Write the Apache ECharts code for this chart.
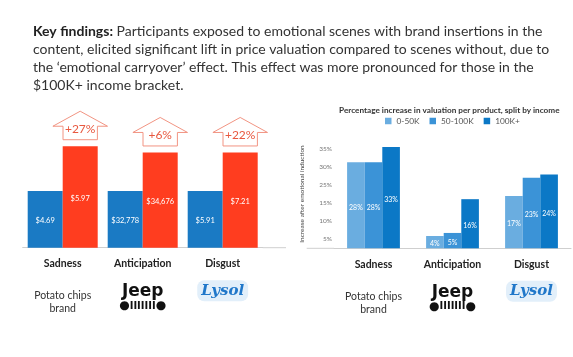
<!DOCTYPE html>
<html><head><meta charset="utf-8">
<script src="https://cdn.jsdelivr.net/npm/echarts@6/dist/echarts.min.js"></script>
<style>html,body{margin:0;padding:0;background:#fff}#c{width:573px;height:357px}</style>
</head><body><div id="c"></div>
<script>
// ---- data ----
const categories = ['Sadness', 'Anticipation', 'Disgust'];
const brands = ['Potato chips\nbrand', 'Jeep', 'Lysol'];
// left chart: valuation without / with emotional scene (bar heights are relative, as drawn)
const withoutLabels = ['$4.69', '$32,778', '$5.91'];
const withLabels = ['$5.97', '$34,676', '$7.21'];
const withoutHeight = [100, 100, 100];
const withHeight = [179, 168, 168];
const liftLabels = ['+27%', '+6%', '+22%'];
// right chart: percentage increase by income
const incomeGroups = ['0-50K', '50-100K', '100K+'];
const inc0to50 = [28, 4, 17];
const inc50to100 = [28, 5, 23];
const inc100plus = [33, 16, 24];
const yTickLabels = ['5%', '10%', '15%', '25%', '30%', '35%', ''];

const FONT = 'Lato';
const chart = echarts.init(document.getElementById('c'), null, {renderer: 'canvas'});

const richLabels = {
  cat: {fontFamily: FONT, fontWeight: 'bold', fontSize: 10.5, lineHeight: 16, color: '#222'},
  sp1: {lineHeight: 17.5, fontSize: 2},
  sp2: {lineHeight: 11, fontSize: 2},
  sp3: {lineHeight: 9, fontSize: 2},
  pc: {fontFamily: FONT, fontSize: 10.5, lineHeight: 13, color: '#333'},
  jeep: {fontFamily: 'DejaVu Sans', fontWeight: 'bold', fontSize: 17, lineHeight: 18, color: '#111'},
  gd: {fontFamily: 'DejaVu Sans', fontSize: 12, lineHeight: 11, color: '#111'},
  gb: {fontFamily: 'DejaVu Sans', fontWeight: 'bold', fontSize: 10, lineHeight: 11, color: '#111'},
  lysol: {fontFamily: 'DejaVu Serif', fontStyle: 'italic', fontWeight: 'bold', fontSize: 15, lineHeight: 20,
          color: '#2077c9', backgroundColor: '#e2effa', padding: [3, 4], borderRadius: 7}
};
function catFormatter(v, i) {
  const b = brands[i];
  if (b === 'Jeep') return '{cat|' + v + '}\n{sp2|}\n{jeep|' + b + '}\n{gd|●}{gb|IIIIIII}{gd|●}';
  if (b === 'Lysol') return '{cat|' + v + '}\n{sp3|}\n{lysol|' + b + '}';
  const parts = b.split('\n');
  return '{cat|' + v + '}\n{sp1|}\n' + parts.map(p => '{pc|' + p + '}').join('\n');
}

const LEFT_BAR_W = 35;
const option = {
  animation: false,
  backgroundColor: '#fff',
  title: [
    {
      left: 28, top: 17,
      text: '{b|Key findings:} Participants exposed to emotional scenes with brand insertions in the\ncontent, elicited significant lift in price valuation compared to scenes without, due to\nthe ‘emotional carryover’ effect. This effect was more pronounced for those in the\n$100K+ income bracket.',
      textStyle: {fontFamily: FONT, fontSize: 14, lineHeight: 18, color: '#333', fontWeight: 'normal',
        rich: {b: {fontFamily: FONT, fontSize: 14, lineHeight: 18, fontWeight: 'bold', color: '#222'}}}
    },
    {
      left: 334, top: 101,
      text: 'Percentage increase in valuation per product, split by income',
      textStyle: {fontFamily: FONT, fontSize: 8.2, fontWeight: 'bold', color: '#333'}
    }
  ],
  legend: {
    data: incomeGroups, left: 385, top: 117, padding: 0,
    icon: 'rect', itemWidth: 6.5, itemHeight: 6.5, itemGap: 10,
    textStyle: {fontFamily: FONT, fontSize: 8.3, color: '#555'}
  },
  grid: [
    {left: 22.7, top: 100.3, width: 240, height: 147.4},
    {left: 334, top: 121.6, width: 237, height: 126.7}
  ],
  xAxis: [
    {type: 'category', gridIndex: 0, data: categories,
     axisLine: {lineStyle: {color: '#cfcfcf'}}, axisTick: {show: false},
     axisLabel: {margin: 8, formatter: catFormatter, rich: richLabels, interval: 0}},
    {type: 'category', gridIndex: 1, data: categories,
     axisLine: {onZero: false, lineStyle: {color: '#cfcfcf'}}, axisTick: {show: false},
     axisLabel: {margin: 8, formatter: catFormatter, rich: richLabels, interval: 0}}
  ],
  yAxis: [
    {type: 'value', gridIndex: 0, min: 0, max: 260, show: false},
    {type: 'value', gridIndex: 1, min: 0, max: 41.27, show: false},
    {type: 'category', gridIndex: 1, data: yTickLabels, position: 'left',
     axisLine: {show: false}, axisTick: {show: false}, splitLine: {show: false},
     axisLabel: {margin: 2, fontFamily: FONT, fontSize: 6.5, color: '#777', interval: 0},
     name: 'Increase after emotional induction', nameLocation: 'middle', nameRotate: 90, nameGap: 29,
     nameTextStyle: {fontFamily: FONT, fontSize: 6.5, color: '#444', padding: [0, 18, 0, 0]}}
  ],
  series: [
    {type: 'bar', name: 'Without', xAxisIndex: 0, yAxisIndex: 0, data: withoutHeight,
     barWidth: LEFT_BAR_W, barGap: '0%', itemStyle: {color: '#1a7ac4'},
     label: {show: true, position: 'inside', offset: [0, 1.5], color: '#fff', fontFamily: FONT, fontSize: 7.5,
             formatter: p => withoutLabels[p.dataIndex]}},
    {type: 'bar', name: 'With', xAxisIndex: 0, yAxisIndex: 0, data: withHeight,
     barWidth: LEFT_BAR_W, barGap: '0%', itemStyle: {color: '#ff3d1f'},
     label: {show: true, position: 'inside', offset: [0, 1.5], color: '#fff', fontFamily: FONT, fontSize: 7.5,
             formatter: p => withLabels[p.dataIndex]}},
    {type: 'custom', name: 'Lift', xAxisIndex: 0, yAxisIndex: 0, silent: true,
     data: withHeight.map((v, i) => [i, v]),
     renderItem: function (params, api) {
       const idx = api.value(0);
       const p = api.coord([idx, api.value(1)]);
       const bw = LEFT_BAR_W;
       const x = p[0] + bw / 2, y = p[1];
       const sh = bw / 2 - 0.3, hh = 27.3;
       return {
         type: 'group',
         children: [
           {type: 'polygon',
            shape: {points: [[x - sh, y - 6.5], [x - sh, y - 20], [x - hh, y - 20], [x, y - 35],
                             [x + hh, y - 20], [x + sh, y - 20], [x + sh, y - 6.5]]},
            style: {fill: '#fff', stroke: '#f29482', lineWidth: 1}},
           {type: 'text',
            style: {text: liftLabels[idx], x: x, y: y - 17, align: 'center', verticalAlign: 'middle',
                    fill: '#e8583f', font: '12px ' + FONT}}
         ]
       };
     }},
    {type: 'bar', name: incomeGroups[0], xAxisIndex: 1, yAxisIndex: 1, data: inc0to50,
     barWidth: 17.6, barGap: '0%', itemStyle: {color: '#6aade0'},
     label: {show: true, position: 'inside', offset: [0, 2], color: '#fff', fontFamily: FONT, fontSize: 7, formatter: '{c}%'}},
    {type: 'bar', name: incomeGroups[1], xAxisIndex: 1, yAxisIndex: 1, data: inc50to100,
     barWidth: 17.6, barGap: '0%', itemStyle: {color: '#3b93d7'},
     label: {show: true, position: 'inside', offset: [0, 2], color: '#fff', fontFamily: FONT, fontSize: 7, formatter: '{c}%'}},
    {type: 'bar', name: incomeGroups[2], xAxisIndex: 1, yAxisIndex: 1, data: inc100plus,
     barWidth: 17.6, barGap: '0%', itemStyle: {color: '#0b78c6'},
     label: {show: true, position: 'inside', offset: [0, 2], color: '#fff', fontFamily: FONT, fontSize: 7, formatter: '{c}%'}}
  ],
  graphic: [
    {type: 'line', shape: {x1: 262.7, y1: 247.7, x2: 286, y2: 247.7}, style: {stroke: '#cfcfcf', lineWidth: 1}, silent: true},
    {type: 'line', shape: {x1: 306.7, y1: 248.3, x2: 334, y2: 248.3}, style: {stroke: '#cfcfcf', lineWidth: 1}, silent: true}
  ]
};
chart.setOption(option);
</script>
</body></html>
